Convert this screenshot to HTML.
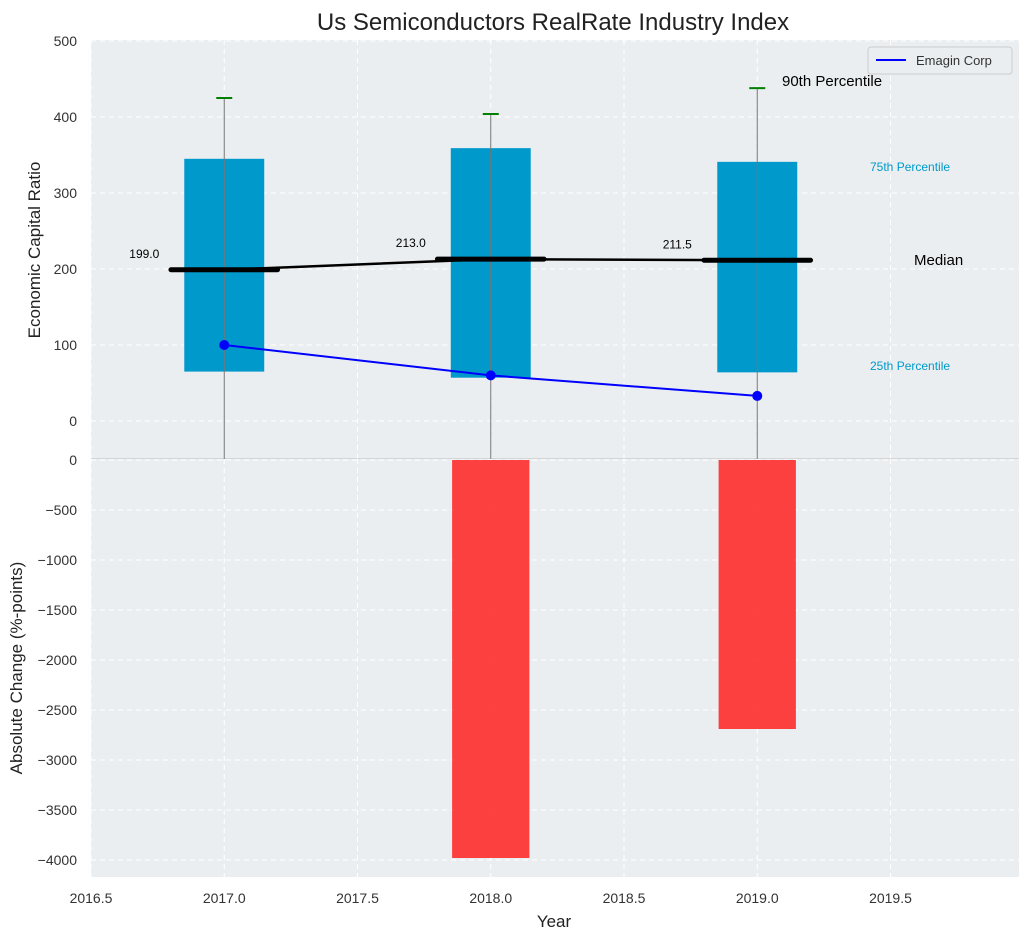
<!DOCTYPE html>
<html><head><meta charset="utf-8"><style>
body{margin:0;background:#fff;font-family:"Liberation Sans",sans-serif}
svg text{font-family:"Liberation Sans",sans-serif}
</style></head><body>
<svg id="chart" width="1029" height="940" xmlns="http://www.w3.org/2000/svg">
<text x="553" y="30" font-size="24" text-anchor="middle" fill="#222">Us Semiconductors RealRate Industry Index</text>
<g id="topG"></g><g id="botG"></g>
<text x="554" y="927" font-size="17" text-anchor="middle" fill="#222">Year</text>
<text transform="translate(40,250) rotate(-90)" font-size="17" text-anchor="middle" fill="#222">Economic Capital Ratio</text>
<text transform="translate(22,668) rotate(-90)" font-size="17" text-anchor="middle" fill="#222">Absolute Change (%-points)</text>
</svg>
<script>
const years=[2017,2018,2019];
const p25=[65,57,64];
const p75=[345,359,341];
const p90=[425,404,438];
const medians=[199,213,211.5];
const emagin=[100,60,33];
const changes=[0,-3980,-2690];
const topTicks=[0,100,200,300,400,500];
const botTicks=[0,-500,-1000,-1500,-2000,-2500,-3000,-3500,-4000];
const xTicks=[2016.5,2017,2017.5,2018,2018.5,2019,2019.5];

const NS="http://www.w3.org/2000/svg";
const X=v=>91+(v-2016.5)*266.5;
const YT=v=>421-v*0.76;
const YB=v=>460-v*0.1;
function mk(p,t,a){const e=document.createElementNS(NS,t);for(const k in a)e.setAttribute(k,a[k]);p.appendChild(e);return e;}
const topG=document.getElementById('topG'),botG=document.getElementById('botG');
const L=91,R=1019;
let e;
e=mk(topG,'rect',{x:L,y:40,width:R-L,height:419,fill:'#eaeef0'});


e=mk(botG,'rect',{x:L,y:459,width:R-L,height:418,fill:'#eaeef0'});


xTicks.forEach(t=>{
 mk(topG,'line',{x1:X(t),x2:X(t),y1:40,y2:459,stroke:'#fff','stroke-dasharray':'5,4'});
 mk(botG,'line',{x1:X(t),x2:X(t),y1:459,y2:877,stroke:'#fff','stroke-dasharray':'5,4'});
 e=mk(botG,'text',{x:X(t),y:903,'font-size':14,'text-anchor':'middle',fill:'#333'});e.textContent=t.toFixed(1);
 
 
});
topTicks.forEach(t=>{
 mk(topG,'line',{x1:L,x2:R,y1:YT(t),y2:YT(t),stroke:'#fff','stroke-dasharray':'5,4'});
 e=mk(topG,'text',{x:77,y:YT(t)+5,'font-size':14,'text-anchor':'end',fill:'#333'});e.textContent=t;
 
 
});
botTicks.forEach(t=>{
 mk(botG,'line',{x1:L,x2:R,y1:YB(t),y2:YB(t),stroke:'#fff','stroke-dasharray':'5,4'});
 e=mk(botG,'text',{x:77,y:YB(t)+5,'font-size':14,'text-anchor':'end',fill:'#333'});e.textContent=t===0?'0':'\u2212'+Math.abs(t);
 
 
});
mk(topG,'line',{x1:L,x2:R,y1:459,y2:459,stroke:'#bbb'});
years.forEach((y,i)=>{
 e=mk(topG,'rect',{x:X(y-0.15),y:YT(p75[i]),width:0.3*266.5,height:YT(p25[i])-YT(p75[i]),fill:'#0099cc'});
 
 
 e=mk(topG,'line',{x1:X(y),x2:X(y),y1:YT(p90[i]),y2:459,stroke:'#777','stroke-width':1});
 
 
 e=mk(topG,'line',{x1:X(y-0.03),x2:X(y+0.03),y1:YT(p90[i]),y2:YT(p90[i]),stroke:'green','stroke-width':2});
 
 
 e=mk(topG,'line',{x1:X(y-0.2),x2:X(y+0.2),y1:YT(medians[i]),y2:YT(medians[i]),stroke:'#000','stroke-width':5,'stroke-linecap':'round'});
 
 
 e=mk(topG,'text',{x:X(y-0.3),y:YT(medians[i])-12,'font-size':12,'text-anchor':'middle',fill:'#000'});e.textContent=medians[i].toFixed(1);
 
 
 if(changes[i]!==0){
  e=mk(botG,'rect',{x:X(y-0.145),y:YB(0),width:0.29*266.5,height:YB(changes[i])-YB(0),fill:'#ff2020','fill-opacity':0.85});
  
  
 }
});
e=mk(topG,'polyline',{points:years.map((y,i)=>X(y)+','+YT(medians[i])).join(' '),fill:'none',stroke:'#000','stroke-width':2.5});


e=mk(topG,'polyline',{points:years.map((y,i)=>X(y)+','+YT(emagin[i])).join(' '),fill:'none',stroke:'#0000ff','stroke-width':2});


years.forEach((y,i)=>{e=mk(topG,'circle',{cx:X(y),cy:YT(emagin[i]),r:5,fill:'#0000ff'});
 
 });
const ann=[[782,86,'90th Percentile',15,'#000','start'],[870,171,'75th Percentile',12,'#0099cc','start'],[914,265,'Median',15,'#000','start'],[870,370,'25th Percentile',12,'#0099cc','start']];
ann.forEach(a=>{e=mk(topG,'text',{x:a[0],y:a[1],'font-size':a[3],fill:a[4],'text-anchor':a[5]});e.textContent=a[2];
 
 });
const lg=mk(topG,'g',{});


mk(lg,'rect',{x:868,y:47,width:144,height:27,fill:'#eaeef0',stroke:'#ccc',rx:3});
mk(lg,'line',{x1:876,x2:906,y1:60,y2:60,stroke:'#0000ff','stroke-width':2});
e=mk(lg,'text',{x:916,y:65,'font-size':13,fill:'#333'});e.textContent='Emagin Corp';
</script>
</body></html>
